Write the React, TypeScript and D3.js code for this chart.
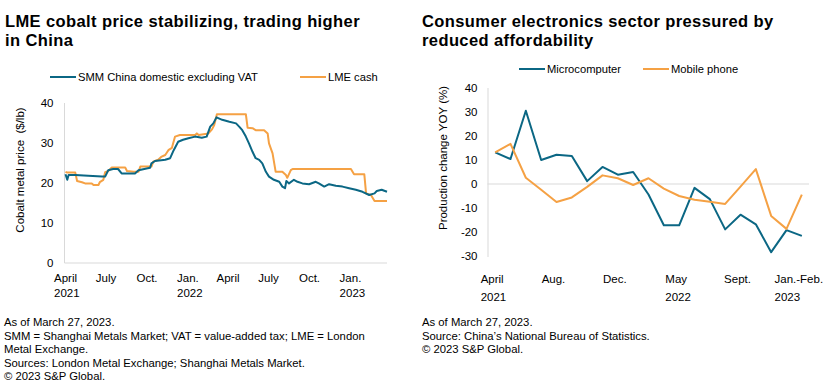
import React, { useRef, useEffect } from "react";
import * as d3 from "d3";

// --- left chart: cobalt prices ($/lb)
const smmDates = [
  "2021-04-01", "2021-04-05", "2021-04-08", "2021-04-23", "2021-05-22", "2021-06-22", "2021-06-29",
  "2021-07-06", "2021-07-17", "2021-07-28", "2021-08-05", "2021-09-04", "2021-09-12", "2021-10-08",
  "2021-10-11", "2021-10-19", "2021-11-11", "2021-11-22", "2021-11-30", "2021-12-10", "2021-12-21",
  "2022-01-02", "2022-01-17", "2022-02-01", "2022-02-12", "2022-02-20", "2022-02-27", "2022-03-06",
  "2022-03-19", "2022-04-04", "2022-04-19", "2022-04-26", "2022-05-03", "2022-05-11", "2022-05-18",
  "2022-05-26", "2022-06-02", "2022-06-10", "2022-06-17", "2022-06-25", "2022-07-02", "2022-07-13",
  "2022-07-25", "2022-08-01", "2022-08-07", "2022-08-10", "2022-08-16", "2022-08-27", "2022-09-04",
  "2022-09-15", "2022-09-30", "2022-10-15", "2022-10-22", "2022-11-03", "2022-11-14", "2022-11-29",
  "2022-12-14", "2022-12-29", "2023-01-13", "2023-01-28", "2023-02-12", "2023-02-24", "2023-03-01",
  "2023-03-12", "2023-03-24",
];
const smmPrices = [
  22.2, 20.8, 22.0, 22.0, 21.8, 21.6, 21.6,
  23.2, 23.5, 23.5, 22.4, 22.4, 23.2, 23.8,
  24.9, 25.5, 25.8, 26.2, 28.2, 30.3, 30.8,
  31.2, 31.6, 31.3, 31.6, 34.1, 34.9, 36.4,
  35.8, 35.3, 34.9, 34.1, 33.2, 31.6, 29.9,
  27.8, 26.2, 25.8, 24.9, 22.8, 21.6, 20.8,
  20.3, 19.1, 18.7, 20.5, 19.9, 20.8, 20.3,
  19.9, 19.7, 20.3, 19.9, 19.1, 19.7, 19.3,
  19.1, 18.7, 18.3, 17.8, 17.0, 17.4, 18.0,
  18.3, 17.8,
];

const lmeDates = [
  "2021-04-01", "2021-04-05", "2021-04-23", "2021-04-27", "2021-05-08", "2021-05-15", "2021-05-30",
  "2021-06-03", "2021-06-14", "2021-06-17", "2021-06-25", "2021-06-29", "2021-07-06", "2021-07-14",
  "2021-08-13", "2021-08-17", "2021-09-01", "2021-09-12", "2021-09-16", "2021-10-11", "2021-10-15",
  "2021-10-26", "2021-11-03", "2021-11-11", "2021-11-18", "2021-11-26", "2021-12-03", "2021-12-14",
  "2022-01-17", "2022-01-21", "2022-01-25", "2022-02-16", "2022-02-24", "2022-03-01", "2022-03-07",
  "2022-05-11", "2022-05-15", "2022-05-26", "2022-06-02", "2022-06-21", "2022-06-29", "2022-07-02",
  "2022-07-10", "2022-07-17", "2022-08-01", "2022-08-09", "2022-08-12", "2022-08-20", "2022-08-24",
  "2023-01-02", "2023-01-09", "2023-02-01", "2023-02-05", "2023-02-16", "2023-02-24", "2023-03-24",
];
const lmePrices = [
  22.8, 22.6, 22.6, 20.5, 20.2, 19.9, 19.9,
  19.5, 19.5, 20.2, 20.8, 22.7, 23.0, 23.9,
  23.9, 23.0, 22.8, 22.8, 24.1, 24.1, 25.3,
  25.8, 26.6, 27.0, 28.2, 28.8, 31.6, 32.0,
  32.0, 32.4, 32.0, 32.4, 33.4, 34.5, 37.2,
  37.2, 33.8, 33.7, 33.2, 33.2, 32.4, 29.9,
  27.4, 22.8, 22.8, 22.0, 21.3, 23.2, 23.5,
  23.5, 22.2, 22.2, 17.4, 17.0, 15.5, 15.5,
];

const leftTickDates = ["2021-04-01", "2021-07-01", "2021-10-01", "2022-01-01", "2022-04-01", "2022-07-01", "2022-10-01", "2023-01-01"];
const leftTickLabels = ["April", "July", "Oct.", "Jan.", "April", "July", "Oct.", "Jan."];
const leftYearLabels = ["2021", "", "", "2022", "", "", "", "2023"];
const leftYTicks = [0, 10, 20, 30, 40];

// --- right chart: production change YOY (%)
const months = [
  "April", "May", "June", "July", "Aug.", "Sept.", "Oct.", "Nov.", "Dec.", "Jan.-Feb.",
  "March", "April", "May", "June", "July", "Aug.", "Sept.", "Oct.", "Nov.", "Dec.", "Jan.-Feb.",
];
const monthYears = ["2021", "", "", "", "", "", "", "", "", "", "", "", "2022", "", "", "", "", "", "", "", "2023"];
const microcomputer = [13.2, 10.4, 30.5, 10.0, 12.2, 11.7, 1.2, 7.1, 3.9, 5.0, -4.4, -17.2, -17.2, -1.6, -6.3, -18.9, -12.8, -16.8, -28.4, -19.2, -21.6];
const mobilePhone = [13.2, 16.7, 2.6, -2.4, -7.5, -5.6, -1.2, 3.6, 2.4, -0.4, 2.4, -1.9, -5.0, -6.6, -7.4, -8.3, -1.1, 6.2, -13.3, -18.7, -4.4];
const rightYTicks = [-30, -20, -10, 0, 10, 20, 30, 40];

const BLUE = "#0b6784";
const ORANGE = "#f5a144";
const AXIS = "#d9d9d9";
const TEXT = "#000";
const FONT = "'Liberation Sans', Arial, sans-serif";

export default function App() {
  const ref = useRef<SVGSVGElement>(null);

  useEffect(() => {
    const svg = d3.select(ref.current);
    svg.selectAll("*").remove();
    svg.attr("font-family", FONT).attr("fill", TEXT);

    const title = (x: number, lines: string[]) => {
      lines.forEach((l, i) => {
        svg.append("text").attr("x", x).attr("y", 26.5 + i * 19)
          .attr("font-size", 16.5).attr("font-weight", "bold")
          .attr("letter-spacing", 0.4).text(l);
      });
    };
    const notes = (x: number, lines: string[]) => {
      lines.forEach((l, i) => {
        svg.append("text").attr("x", x).attr("y", 326 + i * 13.6)
          .attr("font-size", 11.3).text(l);
      });
    };
    const legend = (items: { x: number; color: string; label: string }[], y: number) => {
      items.forEach((it) => {
        svg.append("line").attr("x1", it.x).attr("x2", it.x + 26).attr("y1", y).attr("y2", y)
          .attr("stroke", it.color).attr("stroke-width", 2);
        svg.append("text").attr("x", it.x + 28).attr("y", y).attr("dy", "0.35em")
          .attr("font-size", 11.2).text(it.label);
      });
    };

    // ---------- LEFT ----------
    title(5, ["LME cobalt price stabilizing, trading higher", "in China"]);
    legend([
      { x: 50, color: BLUE, label: "SMM China domestic excluding VAT" },
      { x: 300, color: ORANGE, label: "LME cash" },
    ], 77);

    const parse = d3.timeParse("%Y-%m-%d");
    const x = d3.scaleTime()
      .domain([parse("2021-04-01")!, parse("2023-03-24")!])
      .range([65.5, 387]);
    const y = d3.scaleLinear().domain([0, 40]).range([263, 103]);

    svg.append("line").attr("x1", 64.5).attr("x2", 64.5).attr("y1", 103).attr("y2", 263)
      .attr("stroke", AXIS);
    svg.append("line").attr("x1", 64.5).attr("x2", 387).attr("y1", 263).attr("y2", 263)
      .attr("stroke", AXIS);

    svg.append("g").selectAll("text").data(leftYTicks).enter().append("text")
      .attr("x", 53.5).attr("y", (d) => y(d)).attr("dy", "0.35em")
      .attr("text-anchor", "end").attr("font-size", 11.5).text((d) => d);

    svg.append("text")
      .attr("transform", "translate(24,170) rotate(-90)")
      .attr("text-anchor", "middle").attr("font-size", 11.5)
      .style("white-space", "pre")
      .text("Cobalt metal price  ($/lb)");

    leftTickDates.forEach((d, i) => {
      const cx = x(parse(d)!);
      const t = svg.append("text").attr("x", cx).attr("y", 282)
        .attr("text-anchor", "middle").attr("font-size", 11.5).text(leftTickLabels[i]);
      if (leftYearLabels[i]) {
        const bb = (t.node() as SVGTextElement).getBBox();
        svg.append("text").attr("x", bb.x).attr("y", 297)
          .attr("font-size", 11.5).text(leftYearLabels[i]);
      }
    });

    const smm = smmDates.map((d, i) => ({ date: parse(d)!, v: smmPrices[i] }));
    const lme = lmeDates.map((d, i) => ({ date: parse(d)!, v: lmePrices[i] }));
    const lineL = d3.line<{ date: Date; v: number }>().x((d) => x(d.date)).y((d) => y(d.v));
    svg.append("path").datum(lme).attr("d", lineL).attr("fill", "none")
      .attr("stroke", ORANGE).attr("stroke-width", 2).attr("stroke-linejoin", "round");
    svg.append("path").datum(smm).attr("d", lineL).attr("fill", "none")
      .attr("stroke", BLUE).attr("stroke-width", 2).attr("stroke-linejoin", "round");

    notes(4, [
      "As of March 27, 2023.",
      "SMM = Shanghai Metals Market; VAT = value-added tax; LME = London",
      "Metal Exchange.",
      "Sources: London Metal Exchange; Shanghai Metals Market.",
      "\u00a9 2023 S&P Global.",
    ]);

    // ---------- RIGHT ----------
    title(422, ["Consumer electronics sector pressured by", "reduced affordability"]);
    legend([
      { x: 519, color: BLUE, label: "Microcomputer" },
      { x: 643, color: ORANGE, label: "Mobile phone" },
    ], 69);

    const xb = d3.scaleBand<number>().domain(d3.range(months.length)).range([487.5, 809.5]);
    const cxb = (i: number) => xb(i)! + xb.bandwidth() / 2;
    const yr = d3.scaleLinear().domain([-30, 40]).range([256, 88]);

    svg.append("line").attr("x1", 487.5).attr("x2", 809).attr("y1", yr(0)).attr("y2", yr(0))
      .attr("stroke", "#e6e6e6").attr("stroke-width", 1.5);
    svg.append("line").attr("x1", 488).attr("x2", 488).attr("y1", 88).attr("y2", 257)
      .attr("stroke", AXIS);

    svg.append("g").selectAll("text").data(rightYTicks).enter().append("text")
      .attr("x", 477.5).attr("y", (d) => yr(d)).attr("dy", "0.35em")
      .attr("text-anchor", "end").attr("font-size", 11.5).text((d) => d);

    svg.append("text")
      .attr("transform", "translate(447,158) rotate(-90)")
      .attr("text-anchor", "middle").attr("font-size", 11.5)
      .text("Production change YOY (%)");

    months.forEach((m, i) => {
      if (i % 4 !== 0) return;
      const t = svg.append("text").attr("x", cxb(i) - 3).attr("y", 283)
        .attr("text-anchor", "middle").attr("font-size", 11.5).text(m);
      if (monthYears[i]) {
        const bb = (t.node() as SVGTextElement).getBBox();
        svg.append("text").attr("x", bb.x).attr("y", 301)
          .attr("font-size", 11.5).text(monthYears[i]);
      }
    });

    const lineR = d3.line<number>().x((_, i) => cxb(i)).y((d) => yr(d));
    svg.append("path").datum(microcomputer).attr("d", lineR).attr("fill", "none")
      .attr("stroke", BLUE).attr("stroke-width", 2).attr("stroke-linejoin", "round");
    svg.append("path").datum(mobilePhone).attr("d", lineR).attr("fill", "none")
      .attr("stroke", ORANGE).attr("stroke-width", 2).attr("stroke-linejoin", "round");

    notes(422, [
      "As of March 27, 2023.",
      "Source: China\u2019s National Bureau of Statistics.",
      "\u00a9 2023 S&P Global.",
    ]);
  }, []);

  return (
    <svg
      ref={ref}
      width={837}
      height={392}
      style={{ position: "absolute", left: 0, top: 0, background: "#fff" }}
    />
  );
}
